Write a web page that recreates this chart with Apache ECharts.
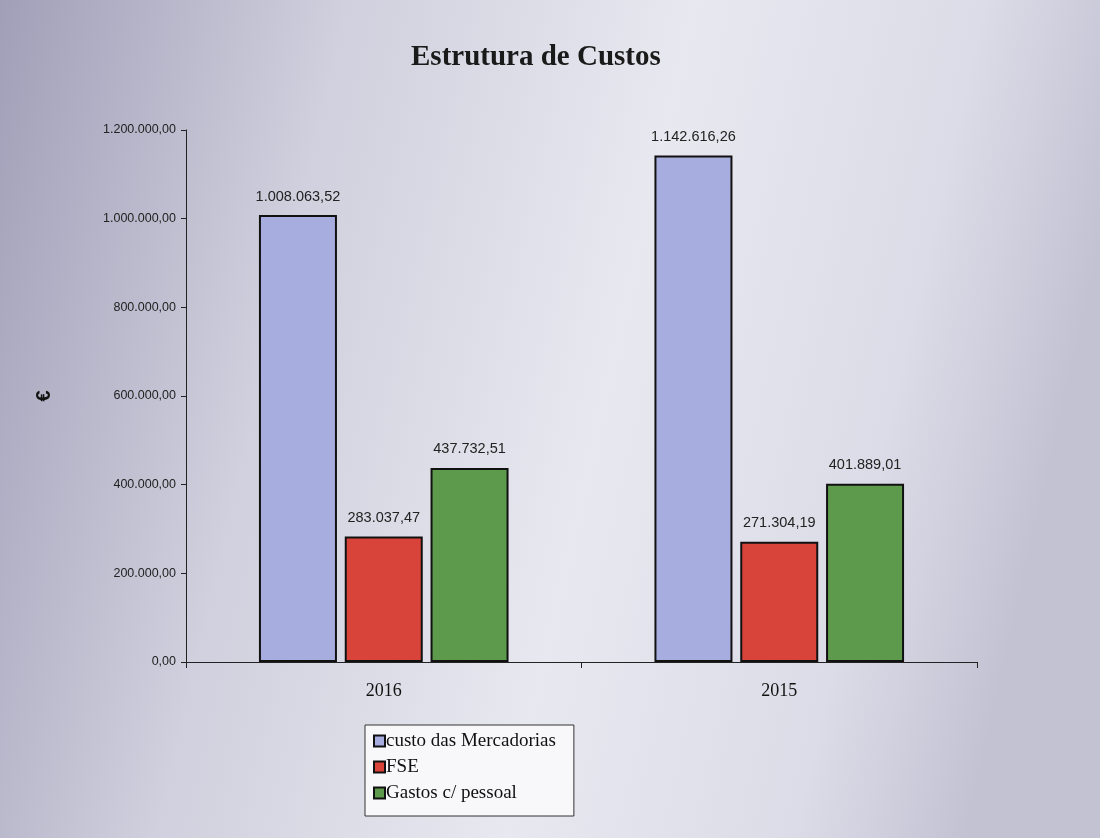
<!DOCTYPE html>
<html>
<head>
<meta charset="utf-8">
<script src="https://cdn.jsdelivr.net/npm/echarts@6/dist/echarts.min.js"></script>
<style>
  html, body { margin: 0; padding: 0; }
  #grafico { width: 1100px; height: 838px; }
</style>
</head>
<body>
<div id="grafico"></div>
<script>
const anos = ['2016', '2015']
const custoMercadorias = [1008063.52, 1142616.26]
const fse = [283037.47, 271304.19]
const gastosPessoal = [437732.51, 401889.01]

// formato portugues: 1.008.063,52
function formatar(v) {
  let partes = Number(v).toFixed(2).split('.')
  partes[0] = partes[0].replace(/\B(?=(\d{3})+(?!\d))/g, '.')
  return partes[0] + ',' + partes[1]
}

let myChart = echarts.init(document.getElementById('grafico'))

let serieBase = {
  type: 'bar',
  barWidth: 78,
  barGap: '10%',
  label: {
    show: true,
    position: 'top',
    distance: 11,
    color: '#222',
    fontFamily: 'Liberation Sans',
    fontSize: 14.5,
    formatter: p => formatar(p.value)
  }
}

let option = {
  backgroundColor: {
    type: 'linear', x: 0, y: 0, x2: 1, y2: 0.3,
    colorStops: [
      { offset: 0, color: '#a09fb8' },
      { offset: 0.3, color: '#d0d0de' },
      { offset: 0.6, color: '#e8e8f0' },
      { offset: 0.85, color: '#dcdce8' },
      { offset: 1, color: '#c2c2d3' }
    ]
  },
  title: {
    text: 'Estrutura de Custos',
    left: 406,
    top: 38,
    textStyle: {
      fontFamily: 'Liberation Serif',
      fontWeight: 'bold',
      fontSize: 29,
      color: '#1a1a1a'
    }
  },
  legend: {
    orient: 'vertical',
    left: 365,
    top: 725,
    itemWidth: 11,
    itemHeight: 11,
    itemGap: 6,
    padding: [6, 18, 13, 8],
    backgroundColor: '#f8f8fb',
    borderColor: '#333',
    borderWidth: 1,
    icon: 'rect',
    textStyle: {
      fontFamily: 'Liberation Serif',
      fontSize: 19,
      lineHeight: 20,
      color: '#111',
      padding: [0, 0, 0, -4]
    }
  },
  grid: {
    left: 186,
    right: 123,
    top: 130,
    bottom: 176
  },
  xAxis: {
    type: 'category',
    data: anos,
    axisLine: { lineStyle: { color: '#222', width: 1 } },
    axisTick: { show: true, length: 6, lineStyle: { color: '#222' } },
    axisLabel: {
      margin: 20,
      fontFamily: 'Liberation Serif',
      fontSize: 18,
      color: '#111'
    }
  },
  yAxis: {
    type: 'value',
    min: 0,
    max: 1200000,
    interval: 200000,
    name: '€',
    nameLocation: 'middle',
    nameRotate: 90,
    nameGap: 132,
    nameTextStyle: {
      fontFamily: 'Liberation Sans',
      fontWeight: 'bold',
      fontSize: 20,
      color: '#111'
    },
    axisLine: { show: true, lineStyle: { color: '#222', width: 1 } },
    axisTick: { show: true, length: 5, lineStyle: { color: '#222' } },
    splitLine: { show: false },
    axisLabel: {
      margin: 10,
      fontFamily: 'Liberation Sans',
      fontSize: 12.5,
      color: '#222',
      formatter: v => formatar(v)
    }
  },
  series: [
    Object.assign({}, serieBase, {
      name: 'custo das Mercadorias',
      data: custoMercadorias,
      itemStyle: { color: '#a8ade0', borderColor: '#111', borderWidth: 2 }
    }),
    Object.assign({}, serieBase, {
      name: 'FSE',
      data: fse,
      itemStyle: { color: '#d8443a', borderColor: '#111', borderWidth: 2 }
    }),
    Object.assign({}, serieBase, {
      name: 'Gastos c/ pessoal',
      data: gastosPessoal,
      itemStyle: { color: '#5d9a4b', borderColor: '#111', borderWidth: 2 }
    })
  ]
}

myChart.setOption(option)
</script>
</body>
</html>
